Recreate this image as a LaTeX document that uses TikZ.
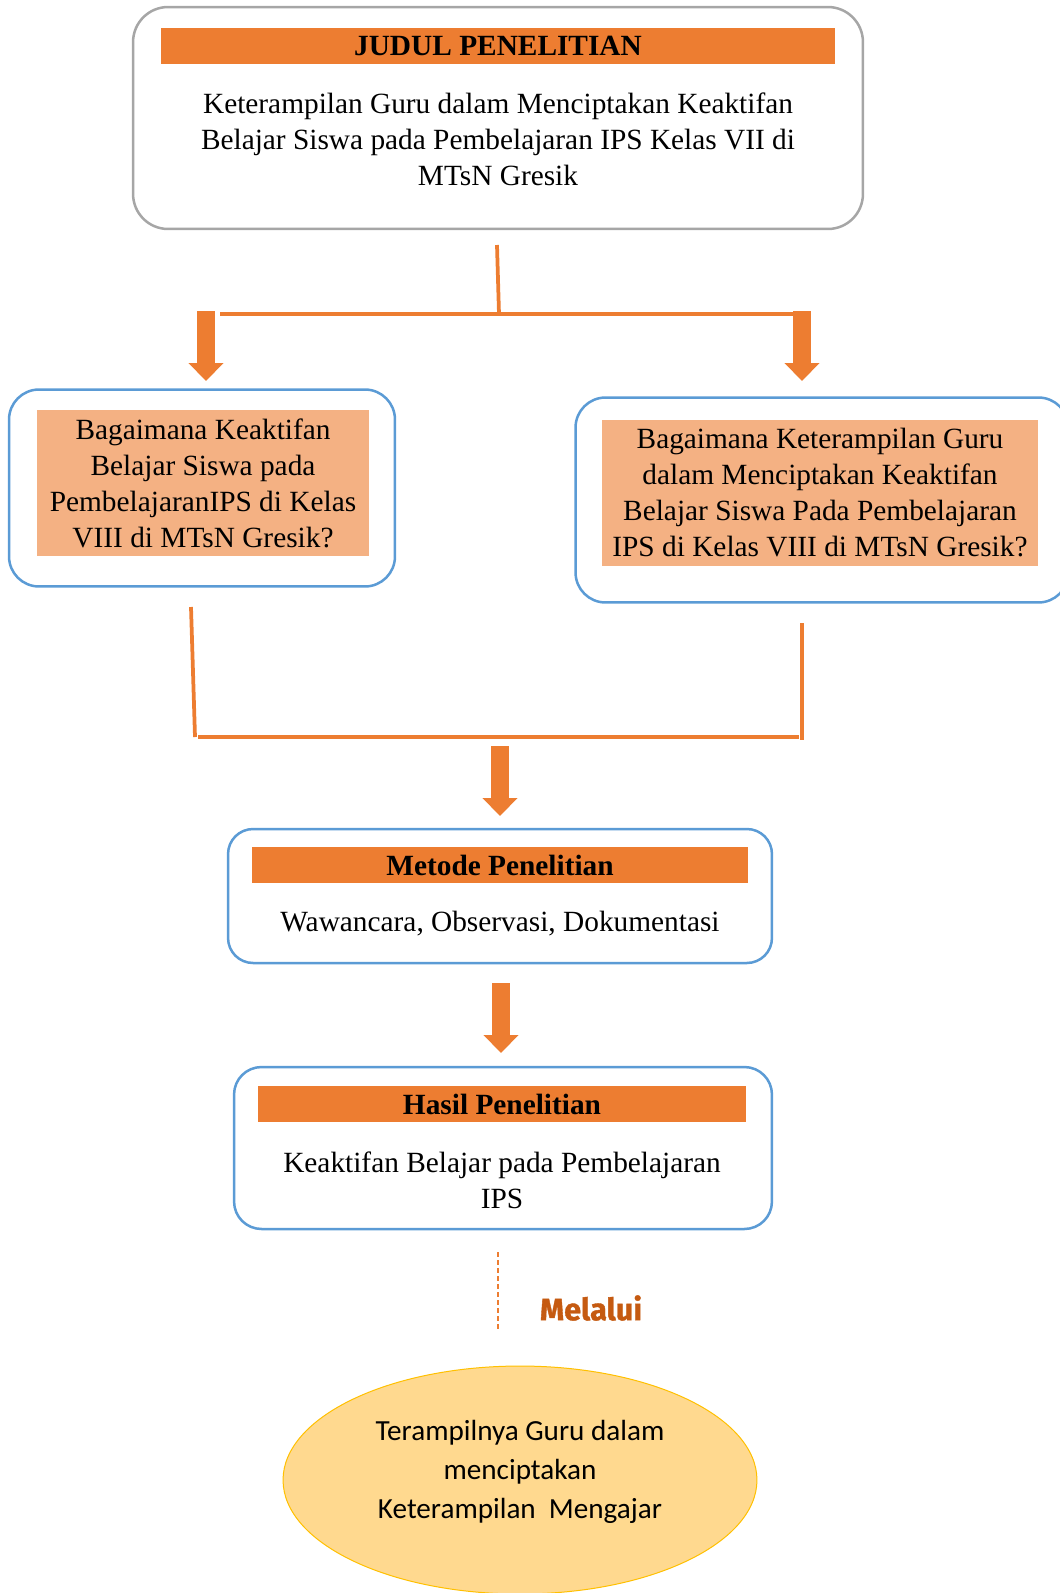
\documentclass[tikz,border=0pt]{standalone}
\usepackage{fontspec}
\setmainfont{Liberation Serif}
\newfontfamily\calibri{Carlito}
\newfontfamily\melaluifont{Fira Sans}[BoldFeatures={FakeBold=1.2}]
\usetikzlibrary{arrows.meta,shapes.geometric}

\definecolor{oranye}{HTML}{ED7D31}
\definecolor{salem}{HTML}{F4B183}
\definecolor{biru}{HTML}{5B9BD5}
\definecolor{abu}{HTML}{A6A6A6}
\definecolor{kuning}{HTML}{FFD98F}
\definecolor{emas}{HTML}{FFC000}
\definecolor{coklat}{HTML}{C55A11}

\newcommand{\teksbesar}{\fontsize{16.7}{20.5}\selectfont}

\tikzset{
  kotak/.style={draw=#1, line width=0.05cm, rounded corners=0.7cm, fill=white},
  pita/.style={fill=oranye, inner sep=0pt, minimum height=0.72cm, font=\teksbesar\bfseries},
  isi/.style={fill=salem, inner sep=0pt, minimum height=2.92cm, align=center, font=\teksbesar},
  teks/.style={align=center, inner sep=0pt, font=\teksbesar},
  garis/.style={draw=oranye, line width=0.075cm},
  panah/.style={draw=oranye, line width=0.36cm, -{Triangle[width=0.68cm,length=0.36cm]}, color=oranye}
}

\begin{document}
\begin{tikzpicture}[x=0.02cm, y=-0.02cm]
  \useasboundingbox (0,0) rectangle (1060,1593);

  % judul penelitian
  \node[kotak=abu, minimum width=14.6cm, minimum height=4.44cm] (judul) at (498,118) {};
  \node[pita, minimum width=13.5cm] (judulpita) at (498,46) {JUDUL PENELITIAN};
  \node[teks] (judulisi) at (498,139)
    {Keterampilan Guru dalam Menciptakan Keaktifan\\
     Belajar Siswa pada Pembelajaran IPS Kelas VII di\\
     MTsN Gresik};

  % cabang ke dua rumusan
  \coordinate (cabangatas) at (497,245);
  \coordinate (cabangtengah) at (499,314);
  \coordinate (cabangkiri) at (220,314);
  \coordinate (cabangkanan) at (794,314);
  \draw[garis] (cabangatas) -- (cabangtengah);
  \draw[garis] (cabangkiri) -- (cabangkanan);
  \coordinate (panahkiri1) at (206,311);
  \coordinate (panahkiri2) at (206,381);
  \coordinate (panahkanan1) at (802,311);
  \coordinate (panahkanan2) at (802,381);
  \draw[panah] (panahkiri1) -- (panahkiri2);
  \draw[panah] (panahkanan1) -- (panahkanan2);

  % rumusan masalah
  \node[kotak=biru, minimum width=7.72cm, minimum height=3.94cm, rounded corners=0.6cm] (tanyakiri) at (202,488) {};
  \node[isi, minimum width=6.66cm] (isikiri) at (203,483)
    {Bagaimana Keaktifan\\ Belajar Siswa pada\\ PembelajaranIPS di Kelas\\ VIII di MTsN Gresik?};
  \node[kotak=biru, minimum width=9.86cm, minimum height=4.1cm, rounded corners=0.6cm] (tanyakanan) at (822,500) {};
  \node[isi, minimum width=8.72cm] (isikanan) at (820,493)
    {Bagaimana Keterampilan Guru\\ dalam Menciptakan Keaktifan\\ Belajar Siswa Pada Pembelajaran\\ IPS di Kelas VIII di MTsN Gresik?};

  % gabung
  \coordinate (gabungkiri1) at (191,607);
  \coordinate (gabungkiri2) at (195,737);
  \coordinate (gabungkanan1) at (802,623);
  \coordinate (gabungkanan2) at (802,740);
  \coordinate (gabungbawah1) at (198,737);
  \coordinate (gabungbawah2) at (799,737);
  \draw[garis] (gabungkiri1) -- (gabungkiri2);
  \draw[garis] (gabungkanan1) -- (gabungkanan2);
  \draw[garis] (gabungbawah1) -- (gabungbawah2);
  \coordinate (panahtengah1) at (500,746);
  \coordinate (panahtengah2) at (500,816);
  \draw[panah] (panahtengah1) -- (panahtengah2);

  % metode
  \node[kotak=biru, minimum width=10.88cm, minimum height=2.68cm, rounded corners=0.5cm] (metode) at (500,896) {};
  \node[pita, minimum width=9.94cm] (metodepita) at (500,865) {Metode Penelitian};
  \node[teks] (metodeisi) at (500,924) {Wawancara, Observasi, Dokumentasi};

  \coordinate (panahbawah1) at (501,983);
  \coordinate (panahbawah2) at (501,1053);
  \draw[panah] (panahbawah1) -- (panahbawah2);

  % hasil
  \node[kotak=biru, minimum width=10.76cm, minimum height=3.24cm, rounded corners=0.55cm] (hasil) at (503,1148) {};
  \node[pita, minimum width=9.78cm] (hasilpita) at (502,1104) {Hasil Penelitian};
  \node[teks] (hasilisi) at (502,1180) {Keaktifan Belajar pada Pembelajaran\\ IPS};

  % melalui
  \coordinate (putus1) at (498,1252);
  \coordinate (putus2) at (498,1331);
  \draw[draw=oranye, line width=0.03cm, dash pattern=on 0.09cm off 0.07cm] (putus1) -- (putus2);
  \node[text=coklat, font=\melaluifont\bfseries\fontsize{17.5}{20}\selectfont] (melalui) at (591,1308) {Melalui};

  % tujuan
  \node[ellipse, draw=emas, fill=kuning, line width=0.02cm, minimum width=9.48cm, minimum height=4.56cm] (tujuan) at (520,1480) {};
  \node[align=center, inner sep=0pt, font=\calibri\fontsize{16.6}{22}\selectfont] (tujuanisi) at (520,1472)
    {Terampilnya Guru dalam\\ menciptakan\\ Keterampilan\ \ Mengajar};
\end{tikzpicture}
\end{document}
